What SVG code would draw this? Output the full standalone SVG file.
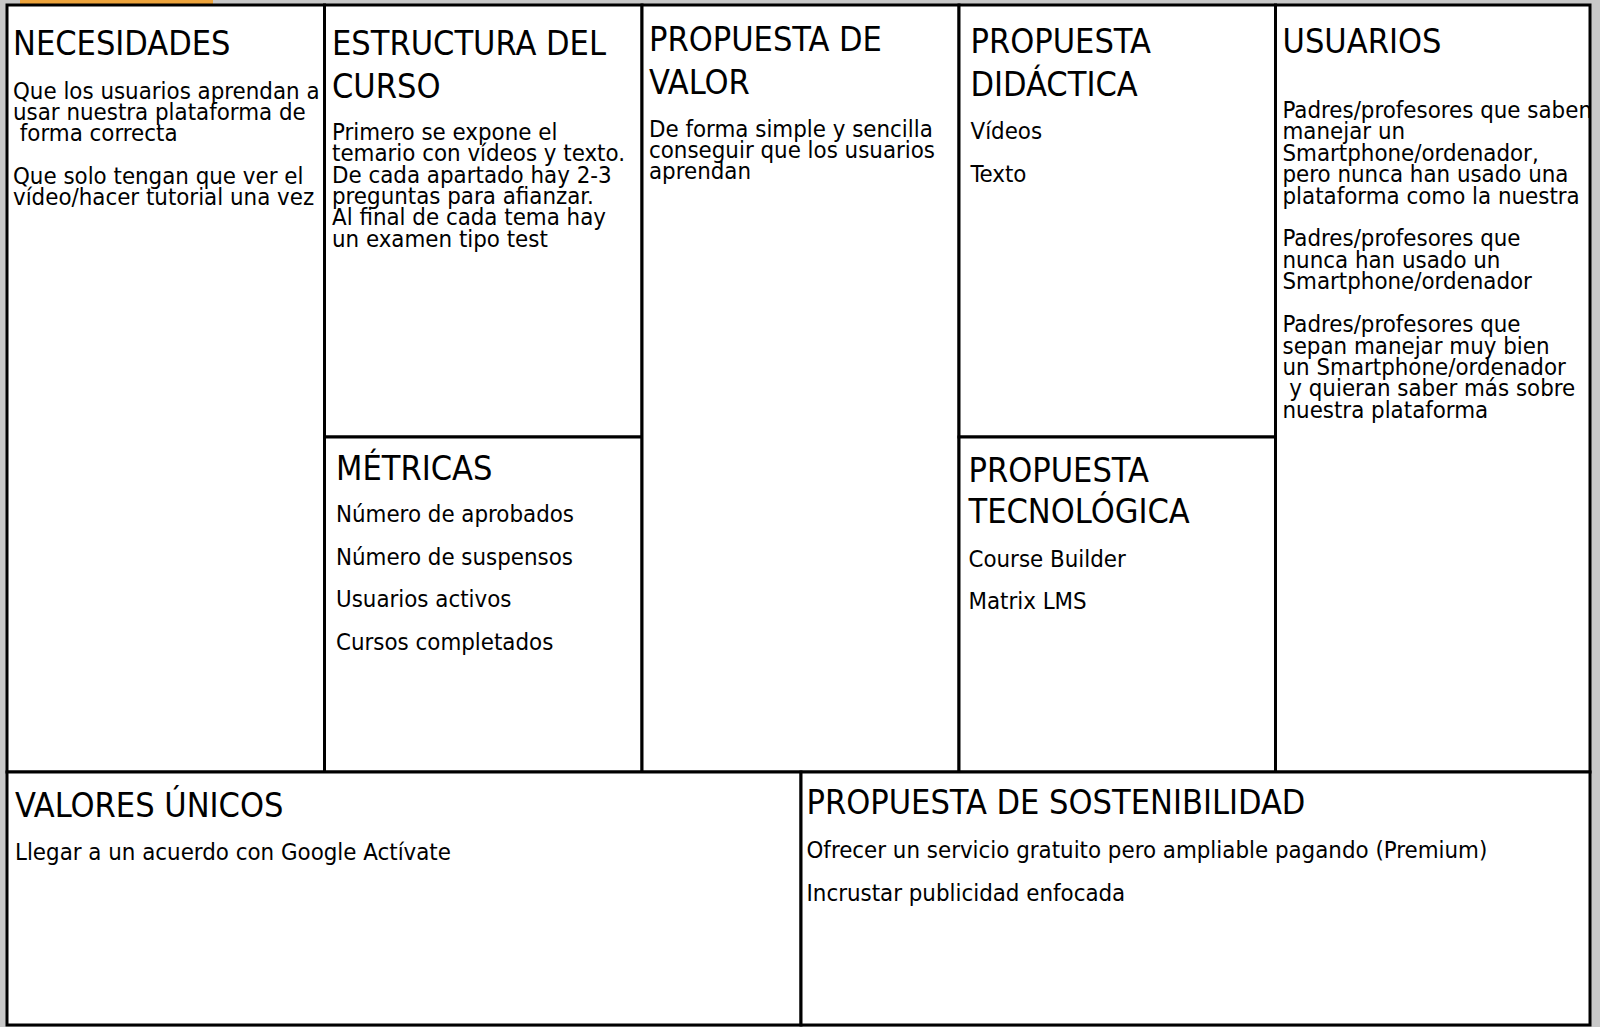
<svg xmlns="http://www.w3.org/2000/svg" width="1600" height="1027" viewBox="0 0 1600 1027">
<style>
.cell{fill:#ffffff;stroke:#000000;stroke-width:3}
.t{font-family:"DejaVu Sans Condensed","DejaVu Sans",sans-serif;font-stretch:condensed;font-size:34px;fill:#000}
.b{font-family:"DejaVu Sans Condensed","DejaVu Sans",sans-serif;font-stretch:condensed;font-size:23.8px;fill:#000}
</style>
<rect x="0" y="0" width="1600" height="1027" fill="#c8c8c8"/>
<rect x="20" y="0" width="193" height="4" fill="#eea43c"/>
<rect x="7" y="5" width="1583" height="1020" fill="#ffffff"/>
<g id="necesidades">
<rect class="cell" x="7" y="5" width="317.5" height="767"/>
<text class="t" x="13" y="55">NECESIDADES</text>
<text class="b" x="13" y="98.5" xml:space="preserve">Que los usuarios aprendan a</text>
<text class="b" x="13" y="119.8" xml:space="preserve">usar nuestra plataforma de</text>
<text class="b" x="13" y="141.1" xml:space="preserve"> forma correcta</text>
<text class="b" x="13" y="183.8" xml:space="preserve">Que solo tengan que ver el</text>
<text class="b" x="13" y="205.1" xml:space="preserve">vídeo/hacer tutorial una vez</text>
</g>
<g id="estructura">
<rect class="cell" x="324.5" y="5" width="317.5" height="432"/>
<text class="t" x="332" y="55">ESTRUCTURA DEL</text>
<text class="t" x="332" y="97.5">CURSO</text>
<text class="b" x="332" y="140">Primero se expone el</text>
<text class="b" x="332" y="161.3">temario con vídeos y texto.</text>
<text class="b" x="332" y="182.6">De cada apartado hay 2-3</text>
<text class="b" x="332" y="203.9">preguntas para afianzar.</text>
<text class="b" x="332" y="225.2">Al final de cada tema hay</text>
<text class="b" x="332" y="246.5">un examen tipo test</text>
</g>
<g id="metricas">
<rect class="cell" x="324.5" y="437" width="317.5" height="335"/>
<text class="t" x="336" y="479.5">MÉTRICAS</text>
<text class="b" x="336" y="522">Número de aprobados</text>
<text class="b" x="336" y="564.8">Número de suspensos</text>
<text class="b" x="336" y="607.4">Usuarios activos</text>
<text class="b" x="336" y="650.2">Cursos completados</text>
</g>
<g id="propuesta-valor">
<rect class="cell" x="642" y="5" width="317" height="767"/>
<text class="t" x="649" y="51">PROPUESTA DE</text>
<text class="t" x="649" y="93.5">VALOR</text>
<text class="b" x="649" y="136.8">De forma simple y sencilla</text>
<text class="b" x="649" y="158.1">conseguir que los usuarios</text>
<text class="b" x="649" y="179.4">aprendan</text>
</g>
<g id="propuesta-didactica">
<rect class="cell" x="959" y="5" width="316.5" height="432"/>
<text class="t" x="970.5" y="53">PROPUESTA</text>
<text class="t" x="970.5" y="95.5">DIDÁCTICA</text>
<text class="b" x="970.5" y="138.8">Vídeos</text>
<text class="b" x="970.5" y="181.6">Texto</text>
</g>
<g id="propuesta-tecnologica">
<rect class="cell" x="959" y="437" width="316.5" height="335"/>
<text class="t" x="968.5" y="481.6">PROPUESTA</text>
<text class="t" x="968.5" y="523.4">TECNOLÓGICA</text>
<text class="b" x="968.5" y="566.8">Course Builder</text>
<text class="b" x="968.5" y="609">Matrix LMS</text>
</g>
<g id="usuarios">
<rect class="cell" x="1275.5" y="5" width="314.5" height="767"/>
<text class="t" x="1282.5" y="53">USUARIOS</text>
<text class="b" x="1282.5" y="118">Padres/profesores que saben</text>
<text class="b" x="1282.5" y="139.4">manejar un</text>
<text class="b" x="1282.5" y="160.8">Smartphone/ordenador,</text>
<text class="b" x="1282.5" y="182.2">pero nunca han usado una</text>
<text class="b" x="1282.5" y="203.6">plataforma como la nuestra</text>
<text class="b" x="1282.5" y="246.4">Padres/profesores que</text>
<text class="b" x="1282.5" y="267.8">nunca han usado un</text>
<text class="b" x="1282.5" y="289.2">Smartphone/ordenador</text>
<text class="b" x="1282.5" y="332.1">Padres/profesores que</text>
<text class="b" x="1282.5" y="353.5">sepan manejar muy bien</text>
<text class="b" x="1282.5" y="374.9">un Smartphone/ordenador</text>
<text class="b" x="1282.5" y="396.3" xml:space="preserve"> y quieran saber más sobre</text>
<text class="b" x="1282.5" y="417.7">nuestra plataforma</text>
</g>
<g id="valores-unicos">
<rect class="cell" x="7" y="772" width="794" height="253"/>
<text class="t" x="15" y="817">VALORES ÚNICOS</text>
<text class="b" x="15" y="859.5">Llegar a un acuerdo con Google Actívate</text>
</g>
<g id="propuesta-sostenibilidad">
<rect class="cell" x="801" y="772" width="789" height="253"/>
<text class="t" x="806.5" y="814">PROPUESTA DE SOSTENIBILIDAD</text>
<text class="b" x="806.5" y="858.2">Ofrecer un servicio gratuito pero ampliable pagando (Premium)</text>
<text class="b" x="806.5" y="900.5">Incrustar publicidad enfocada</text>
</g>
</svg>
